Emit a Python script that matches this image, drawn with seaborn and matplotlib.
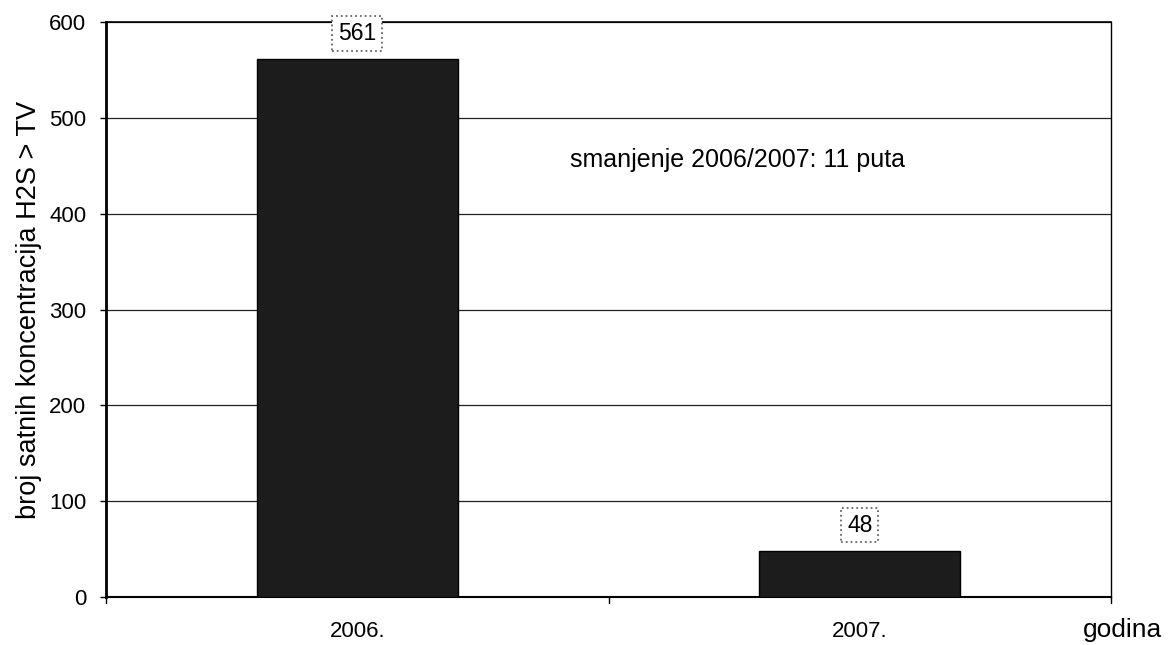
import matplotlib
matplotlib.use("Agg")
import matplotlib.pyplot as plt
import seaborn as sns
import pandas as pd

years = ["2006.", "2007."]
counts = [561, 48]
yticks = [0, 100, 200, 300, 400, 500, 600]

sns.set_theme(style="white")
plt.rcParams['font.family'] = ['Liberation Sans', 'DejaVu Sans']

df = pd.DataFrame({"godina": years, "broj": counts})

fig = plt.figure(figsize=(11.68, 6.45), dpi=100)
ax = fig.add_axes([106/1168, 1-597/645, (1111-106)/1168, (597-22)/645])

sns.barplot(data=df, x="godina", y="broj", ax=ax, color="#1c1c1c", width=0.4,
            edgecolor="#000000", linewidth=1, saturation=1, zorder=3)

ax.set_ylim(0, 600)
ax.set_xlim(-0.5, 1.5)
ax.set_yticks(yticks)
ax.set_yticklabels([str(t) for t in yticks], fontsize=16, color="black")
ax.tick_params(axis="y", length=4.3, width=1, color="black", direction="out", left=True, pad=10)
ax.tick_params(axis="x", length=0, pad=17, labelsize=16, colors="black")
for t in yticks:
    ax.axhline(t, color="#222222", linewidth=0.9, zorder=1)
# category boundary ticks
for xb in [-0.5, 0.5, 1.5]:
    ax.plot([xb, xb], [0, -6], color="black", lw=1, clip_on=False)

for s in ["left", "bottom", "top", "right"]:
    ax.spines[s].set_visible(True)
    ax.spines[s].set_color("black")
ax.spines["left"].set_linewidth(2)
ax.spines["bottom"].set_linewidth(1.5)
ax.spines["top"].set_linewidth(1.2)
ax.spines["right"].set_linewidth(1.0)

ax.set_xlabel("")
ax.set_ylabel("broj satnih koncentracija H2S > TV", fontsize=19.5, color="black", labelpad=5)

for i, v in enumerate(counts):
    ax.text(i, v + 27, str(v), ha="center", va="center", fontsize=16.5, color="black",
            bbox=dict(boxstyle="square,pad=0.25", fc="white", ec="#666666", ls=":", lw=1.3),
            zorder=5, clip_on=False)

ax.text(0.756, 456, "smanjenje 2006/2007: 11 puta", ha="center", va="center",
        fontsize=18, color="black", zorder=5)

fig.text(1122/1168, 1-630/645, "godina", ha="center", va="center", fontsize=19, color="black")

fig.savefig("out.png", dpi=100, facecolor="white")
